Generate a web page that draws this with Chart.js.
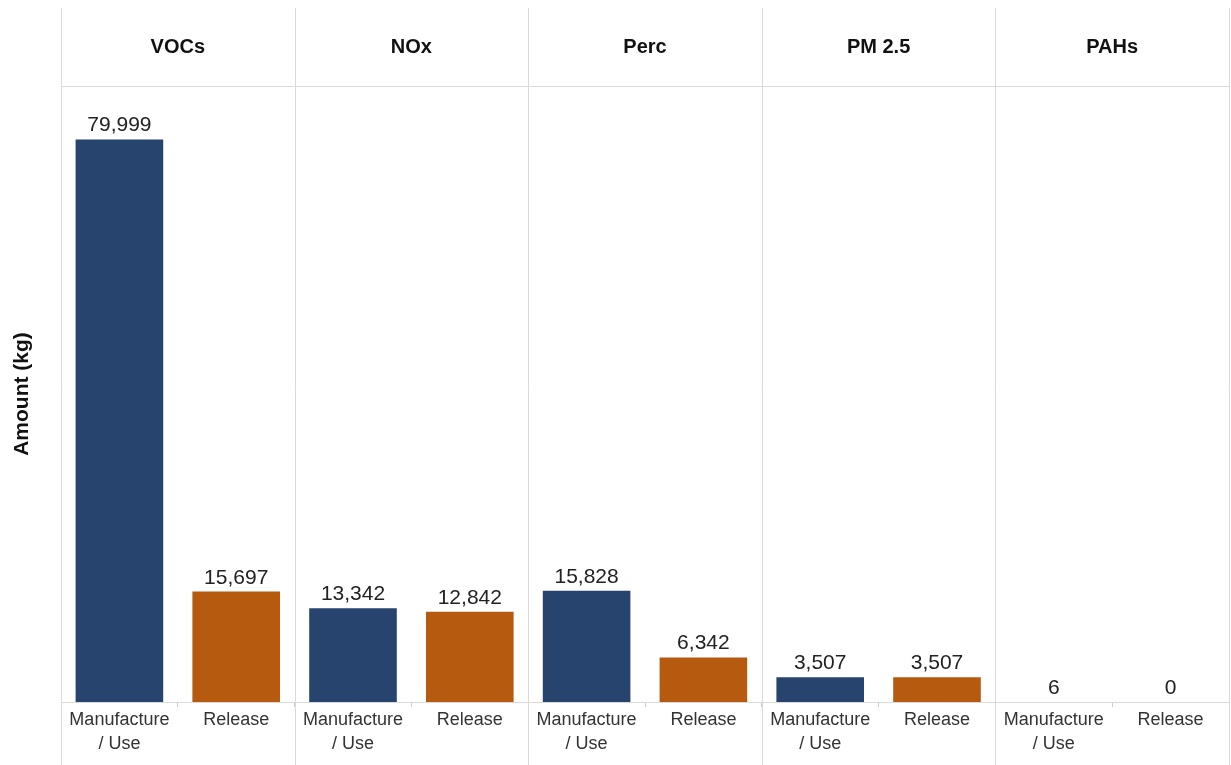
<!DOCTYPE html>
<html>
<head>
<meta charset="utf-8">
<script src="https://cdn.jsdelivr.net/npm/chart.js@4.4.1/dist/chart.umd.min.js"></script>
<style>
    html, body { margin: 0; padding: 0; background: #ffffff; }
    #wrap { width: 1231px; height: 765px; position: relative; }
</style>
</head>
<body>
<div id="wrap"><canvas id="grafico"></canvas></div>
<script>
// poluentes e tipos de atividade
const poluentes = ['VOCs', 'NOx', 'Perc', 'PM 2.5', 'PAHs'];
const tipos = [['Manufacture', '/ Use'], 'Release'];

// quantidades (kg) por poluente
const manufactureUse = [79999, 13342, 15828, 3507, 6];
const release = [15697, 12842, 6342, 3507, 0];

const yMax = 87600;

const corAzul = '#26446e';
const corLaranja = '#b65a10';
const corLinha = '#dadada';
const fonte = '"Liberation Sans", Arial, sans-serif';

// uma barra por combinacao poluente x tipo
var labels = [];
var valores = [];
var cores = [];
for (var i = 0; i < poluentes.length; i++) {
    labels.push(tipos[0], tipos[1]);
    valores.push(manufactureUse[i], release[i]);
    cores.push(corAzul, corLaranja);
}

// linhas dos paineis e titulos de cada poluente
const paineis = {
    id: 'paineis',
    afterDraw: function (chart) {
        const ctx = chart.ctx;
        const area = chart.chartArea;
        const larg = (area.right - area.left) / poluentes.length;
        ctx.save();
        ctx.strokeStyle = corLinha;
        ctx.lineWidth = 1;
        for (var p = 0; p <= poluentes.length; p++) {
            var x = Math.round(area.left + p * larg) + 0.5;
            ctx.beginPath();
            ctx.moveTo(x, 8);
            ctx.lineTo(x, chart.height);
            ctx.stroke();
        }
        ctx.beginPath();
        ctx.moveTo(area.left, area.top + 0.5);
        ctx.lineTo(area.right, area.top + 0.5);
        ctx.stroke();

        ctx.fillStyle = '#111111';
        ctx.font = 'bold 20px ' + fonte;
        ctx.textAlign = 'center';
        ctx.textBaseline = 'middle';
        for (var p = 0; p < poluentes.length; p++) {
            ctx.fillText(poluentes[p], area.left + (p + 0.5) * larg, 47);
        }
        ctx.restore();
    }
};

// valor em cima de cada barra
const rotulos = {
    id: 'rotulos',
    afterDatasetsDraw: function (chart) {
        const ctx = chart.ctx;
        const meta = chart.getDatasetMeta(0);
        ctx.save();
        ctx.fillStyle = '#222222';
        ctx.font = '21px ' + fonte;
        ctx.textAlign = 'center';
        ctx.textBaseline = 'alphabetic';
        meta.data.forEach(function (barra, i) {
            ctx.fillText(valores[i].toLocaleString('en-US'), barra.x, barra.y - 8);
        });
        ctx.restore();
    }
};

const config = {
    type: 'bar',
    data: {
        labels: labels,
        datasets: [{
            data: valores,
            backgroundColor: cores,
            barPercentage: 0.75,
            categoryPercentage: 1
        }]
    },
    options: {
        responsive: true,
        maintainAspectRatio: false,
        animation: false,
        layout: {
            padding: { top: 86, right: 2, left: 0, bottom: 0 }
        },
        plugins: {
            legend: { display: false },
            tooltip: { enabled: false }
        },
        scales: {
            x: {
                offset: true,
                grid: {
                    drawOnChartArea: false,
                    tickLength: 5,
                    color: '#cccccc'
                },
                border: { color: corLinha },
                ticks: {
                    autoSkip: false,
                    maxRotation: 0,
                    padding: 2,
                    color: '#333333',
                    font: { family: fonte, size: 18, lineHeight: 1.28 }
                },
                afterFit: function (scale) { scale.height = 63; }
            },
            y: {
                min: 0,
                max: yMax,
                ticks: { display: false },
                grid: { display: false },
                border: { display: false },
                title: {
                    display: true,
                    text: 'Amount (kg)',
                    color: '#111111',
                    font: { family: fonte, size: 21, weight: 'bold' },
                    padding: { top: 10, bottom: 0 }
                },
                afterFit: function (scale) { scale.width = 61; }
            }
        }
    },
    plugins: [paineis, rotulos]
};

const grafico = new Chart(document.getElementById('grafico'), config);
</script>
</body>
</html>
